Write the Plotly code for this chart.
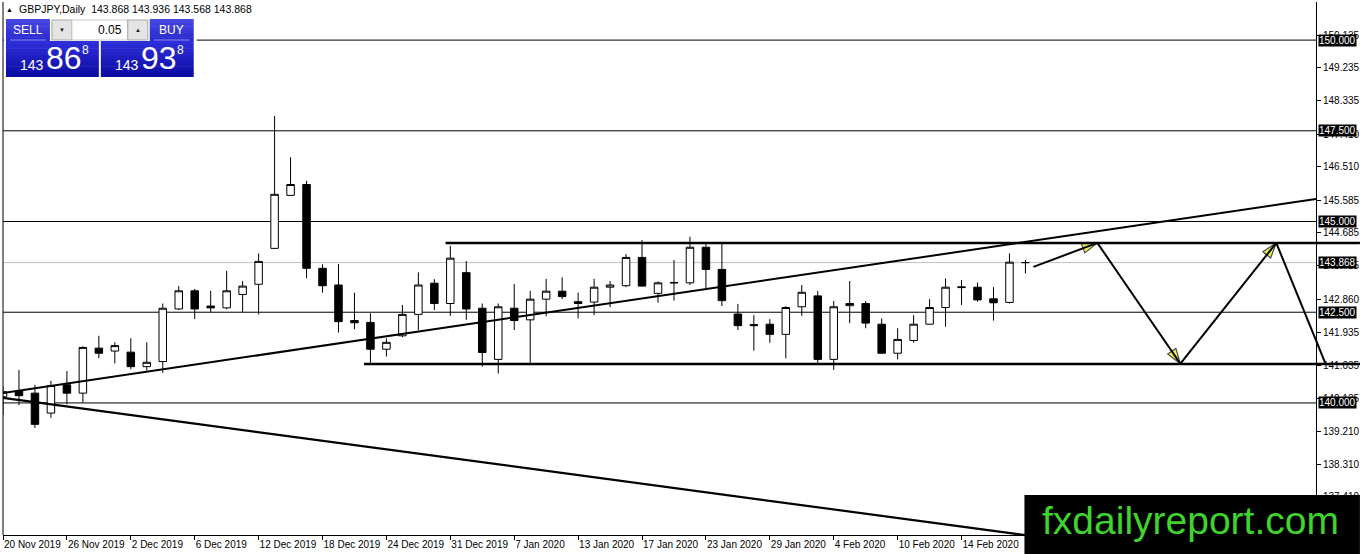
import plotly.graph_objects as go

# ---------------- data ----------------
dates = [
    "2019-11-20", "2019-11-21", "2019-11-22", "2019-11-25", "2019-11-26", "2019-11-27", "2019-11-28", "2019-11-29",
    "2019-12-02", "2019-12-03", "2019-12-04", "2019-12-05", "2019-12-06", "2019-12-09", "2019-12-10", "2019-12-11",
    "2019-12-12", "2019-12-13", "2019-12-16", "2019-12-17", "2019-12-18", "2019-12-19", "2019-12-20", "2019-12-23",
    "2019-12-24", "2019-12-26", "2019-12-27", "2019-12-30", "2019-12-31", "2020-01-02", "2020-01-03", "2020-01-06",
    "2020-01-07", "2020-01-08", "2020-01-09", "2020-01-10", "2020-01-13", "2020-01-14", "2020-01-15", "2020-01-16",
    "2020-01-17", "2020-01-20", "2020-01-21", "2020-01-22", "2020-01-23", "2020-01-24", "2020-01-27", "2020-01-28",
    "2020-01-29", "2020-01-30", "2020-01-31", "2020-02-03", "2020-02-04", "2020-02-05", "2020-02-06", "2020-02-07",
    "2020-02-10", "2020-02-11", "2020-02-12", "2020-02-13", "2020-02-14", "2020-02-17", "2020-02-18", "2020-02-19",
    "2020-02-20",
]
opens = [
    140.17, 140.33, 140.27, 139.72, 140.50, 140.27, 141.51, 141.43, 141.40, 141.00,
    141.14, 142.59, 143.09, 142.67, 142.62, 142.99, 143.27, 144.26, 145.72, 146.02,
    143.71, 143.25, 142.27, 142.22, 141.48, 141.85, 142.44, 143.30, 142.74, 143.59,
    142.61, 141.20, 142.61, 142.29, 142.86, 143.08, 142.79, 142.78, 143.19, 143.23,
    144.01, 143.02, 143.32, 143.31, 144.29, 143.68, 142.45, 142.16, 142.17, 141.89,
    142.65, 142.95, 141.20, 142.68, 142.74, 142.17, 141.37, 141.72, 142.17, 142.63,
    143.20, 143.19, 142.87, 142.77, 143.868,
]
highs = [
    140.45, 140.91, 140.50, 140.61, 140.88, 141.56, 141.85, 141.67, 141.78, 141.67,
    142.74, 143.22, 143.14, 143.09, 143.64, 143.36, 144.12, 147.91, 146.77, 146.12,
    143.82, 143.83, 143.04, 142.47, 141.78, 142.70, 143.60, 143.41, 144.33, 143.91,
    142.74, 142.74, 143.28, 143.09, 143.42, 143.46, 143.04, 143.42, 143.36, 144.10,
    144.49, 143.35, 143.94, 144.58, 144.40, 144.40, 142.73, 142.42, 142.31, 142.67,
    143.25, 143.09, 142.81, 143.36, 142.81, 142.33, 142.06, 142.42, 142.86, 143.43,
    143.39, 143.32, 143.19, 144.12, 143.936,
]
lows = [
    139.67, 139.94, 139.31, 139.59, 139.96, 140.01, 141.23, 141.09, 140.93, 140.89,
    140.83, 142.56, 142.31, 142.50, 142.58, 142.50, 142.44, 144.24, 145.71, 143.44,
    143.04, 141.94, 142.03, 141.09, 141.28, 141.81, 142.01, 142.56, 142.40, 142.29,
    141.00, 140.81, 142.01, 141.09, 142.39, 142.86, 142.33, 142.42, 142.64, 143.19,
    143.21, 142.76, 142.82, 143.25, 143.16, 142.67, 142.01, 141.44, 141.66, 141.23,
    142.40, 141.05, 140.91, 142.20, 142.06, 141.36, 141.20, 141.66, 142.17, 142.10,
    142.70, 142.79, 142.27, 142.74, 143.568,
]
closes = [
    140.31, 140.20, 139.41, 140.48, 140.27, 141.53, 141.37, 141.58, 141.00, 141.12,
    142.61, 143.09, 142.59, 142.62, 143.09, 143.22, 143.90, 145.75, 146.02, 143.71,
    143.23, 142.24, 142.21, 141.48, 141.67, 142.44, 143.25, 142.74, 143.99, 142.59,
    141.39, 142.65, 142.27, 142.86, 143.08, 142.93, 142.74, 143.19, 143.25, 144.01,
    143.22, 143.31, 143.31, 144.29, 143.68, 142.82, 142.13, 142.13, 141.89, 142.63,
    143.05, 141.20, 142.65, 142.74, 142.20, 141.37, 141.75, 142.17, 142.63, 143.19,
    143.18, 142.84, 142.76, 143.88, 143.868,
]

x_tick_dates = ["2019-11-20", "2019-11-26", "2019-12-02", "2019-12-06", "2019-12-12", "2019-12-18",
                "2019-12-24", "2019-12-31", "2020-01-07", "2020-01-13", "2020-01-17", "2020-01-23",
                "2020-01-29", "2020-02-04", "2020-02-10", "2020-02-14"]
x_tick_labels = ["20 Nov 2019", "26 Nov 2019", "2 Dec 2019", "6 Dec 2019", "12 Dec 2019", "18 Dec 2019",
                 "24 Dec 2019", "31 Dec 2019", "7 Jan 2020", "13 Jan 2020", "17 Jan 2020", "23 Jan 2020",
                 "29 Jan 2020", "4 Feb 2020", "10 Feb 2020", "14 Feb 2020"]
y_tick_values = [150.135, 149.235, 148.335, 147.410, 146.510, 145.585, 144.685, 143.785,
                 142.860, 141.935, 141.035, 140.135, 139.210, 138.310, 137.410]

level_lines = [150.0, 147.5, 145.0, 142.5, 140.0]
bid_price = 143.868

# drawn objects (bar-index position, price)
resistance_level = 144.41
resistance_start = 27.7
support_level = 141.07
support_start = 22.6
trend_up_x = [0.0, 82.19]
trend_up_y = [140.275, 145.62]
trend_down_x = [0.0, 70.0]
trend_down_y = [140.14, 136.0]
arrow_x = [64.5, 68.5, 73.7, 79.7, 82.75]
arrow_y = [143.75, 144.41, 141.08, 144.41, 141.12]

header_text = "GBPJPY,Daily&nbsp; 143.868 143.936 143.568 143.868"

# ---------------- geometry ----------------
W, H = 1362, 554
ML, MR, MT, MB = 3, 44, 2, 19
PW = W - ML - MR
PH = H - MT - MB
XR = [0.0, (PW) / 16.0]
YR = [136.36, 151.05]
FONT = "Liberation Sans, Arial, sans-serif"

xpos = list(range(len(dates)))


def xp(i):
    return (i - XR[0]) / (XR[1] - XR[0])


def px(x):
    return (x - ML) / PW


def py(y):
    return (H - MB - y) / PH


fig = go.Figure()

fig.add_trace(go.Candlestick(
    x=xpos, open=opens, high=highs, low=lows, close=closes,
    increasing=dict(line=dict(color="black", width=1), fillcolor="white"),
    decreasing=dict(line=dict(color="black", width=1), fillcolor="black"),
    whiskerwidth=0, showlegend=False, hoverinfo="skip",
))

# trend lines
fig.add_trace(go.Scatter(x=trend_up_x, y=trend_up_y, mode="lines",
                         line=dict(color="black", width=2), showlegend=False, hoverinfo="skip"))
fig.add_trace(go.Scatter(x=trend_down_x, y=trend_down_y, mode="lines",
                         line=dict(color="black", width=2.2), showlegend=False, hoverinfo="skip"))

shapes = []
for lv in level_lines:
    shapes.append(dict(type="line", xref="paper", yref="y", x0=0, x1=1, y0=lv, y1=lv,
                       line=dict(color="black", width=1), layer="below"))
shapes.append(dict(type="line", xref="paper", yref="y", x0=0, x1=1, y0=bid_price, y1=bid_price,
                   line=dict(color="#c0c0c0", width=1), layer="below"))
shapes.append(dict(type="line", xref="paper", yref="y", x0=xp(resistance_start), x1=px(W),
                   y0=resistance_level, y1=resistance_level, line=dict(color="black", width=2.5)))
shapes.append(dict(type="line", xref="paper", yref="y", x0=xp(support_start), x1=px(W),
                   y0=support_level, y1=support_level, line=dict(color="black", width=2.5)))
# left border
shapes.append(dict(type="line", xref="paper", yref="paper", x0=0, x1=0, y0=0, y1=1,
                   line=dict(color="black", width=1)))

# arrows
for k in range(len(arrow_x) - 1):
    shapes.append(dict(type="line", xref="paper", yref="y",
                       x0=xp(arrow_x[k]), x1=xp(arrow_x[k + 1]), y0=arrow_y[k], y1=arrow_y[k + 1],
                       line=dict(color="black", width=2)))
    fig.add_trace(go.Scatter(
        x=[arrow_x[k], arrow_x[k + 1]], y=[arrow_y[k], arrow_y[k + 1]], mode="markers",
        marker=dict(symbol="arrow", angleref="previous", size=[0, 16], color="#e8e800",
                    line=dict(color="black", width=1.2)),
        cliponaxis=False, showlegend=False, hoverinfo="skip"))


# ---------------- trade panel ----------------
def rect(x0, y0, x1, y1, fill, line=None, lw=1):
    shapes.append(dict(type="rect", xref="paper", yref="paper", x0=px(x0), x1=px(x1), y0=py(y0), y1=py(y1),
                       fillcolor=fill, line=dict(color=line if line else fill, width=lw if line else 0),
                       layer="above"))


def mix(c1, c2, t):
    a = [int(c1[i:i + 2], 16) for i in (1, 3, 5)]
    b = [int(c2[i:i + 2], 16) for i in (1, 3, 5)]
    return "#" + "".join("%02x" % int(round(a[j] + (b[j] - a[j]) * t)) for j in range(3))


def grad(x0, y0, x1, y1, ctop, cbot, n=8):
    for k in range(n):
        ya = y0 + (y1 - y0) * k / n
        yb = y0 + (y1 - y0) * (k + 1) / n + 0.5
        rect(x0, ya, x1, min(yb, y1), mix(ctop, cbot, k / (n - 1)))


rect(4, 16, 197, 80, "white")
grad(6, 19, 50, 41, "#4646e0", "#2a2ad0", 6)
grad(150, 19, 194, 41, "#4646e0", "#2a2ad0", 6)
grad(6, 41, 99, 77, "#2e2ed8", "#0c0ca4", 10)
grad(101, 41, 194, 77, "#2e2ed8", "#0c0ca4", 10)
shapes.append(dict(type="line", xref="paper", yref="paper", x0=px(10), x1=px(46), y0=py(40), y1=py(40),
                   line=dict(color="#8c8cf0", width=1), layer="above"))
shapes.append(dict(type="line", xref="paper", yref="paper", x0=px(154), x1=px(190), y0=py(40), y1=py(40),
                   line=dict(color="#8c8cf0", width=1), layer="above"))
rect(52, 20, 72, 40, "#e4e4e4", "#a8a8a8")
rect(72, 20, 128, 40, "white", "#c8c8c8")
rect(128, 20, 148, 40, "#e4e4e4", "#a8a8a8")
# logo box
rect(1026, 495, 1362, 556, "black")

annotations = []


def text(x, y, s, size, color="white", xanchor="center", family=FONT):
    annotations.append(dict(xref="paper", yref="paper", x=px(x), y=py(y), text=s, showarrow=False,
                            xanchor=xanchor, yanchor="middle",
                            font=dict(size=size, color=color, family=family)))


text(28, 30, "SELL", 12)
text(172, 30, "BUY", 12)
text(62, 30, "▼", 6, "#202020")
text(138, 30, "▲", 6, "#202020")
text(124, 30, "0.05", 12, "black", "right")
text(32, 65, "143", 14)
text(64, 58, "86", 32)
text(86, 50, "8", 12)
text(127, 65, "143", 14)
text(159, 58, "93", 32)
text(181, 50, "8", 12)
text(4, 9, "▲", 7, "black", "left")
text(17, 9, header_text, 10.5, "black", "left")
text(1192, 520, "fxdailyreport.com", 39, "#3ed42c", "center", "Liberation Sans, Arial, sans-serif")

# price labels on the axis
for lv in level_lines + [bid_price]:
    annotations.append(dict(xref="paper", yref="y", x=1, xshift=2, y=lv, text="%.3f" % lv,
                            showarrow=False, xanchor="left", yanchor="middle", bgcolor="black",
                            borderpad=0, font=dict(size=10, color="white", family=FONT)))

fig.update_layout(
    width=W, height=H,
    margin=dict(l=ML, r=MR, t=MT, b=MB, pad=0),
    paper_bgcolor="white", plot_bgcolor="white",
    font=dict(family=FONT, size=10, color="black"),
    showlegend=False, hovermode=False,
    boxgap=0.33,
    shapes=shapes, annotations=annotations,
    xaxis=dict(range=XR, showgrid=False, zeroline=False, showline=True, linecolor="black", linewidth=1,
               ticks="outside", ticklen=4, tickcolor="black", tickangle=0,
               tickvals=[dates.index(d) for d in x_tick_dates], ticktext=x_tick_labels,
               ticklabelposition="outside right", tickfont=dict(size=10, family=FONT, color="black"),
               rangeslider=dict(visible=False), fixedrange=True),
    yaxis=dict(range=YR, side="right", showgrid=False, zeroline=False, showline=True, linecolor="black",
               linewidth=1, ticks="outside", ticklen=4, tickcolor="black",
               tickvals=y_tick_values, ticktext=["%.3f" % v for v in y_tick_values],
               tickfont=dict(size=10, family=FONT, color="black"), fixedrange=True),
)

fig.write_html("out.html", config=dict(displayModeBar=False),
               post_script="document.body.style.margin='0';document.body.style.overflow='hidden';")
